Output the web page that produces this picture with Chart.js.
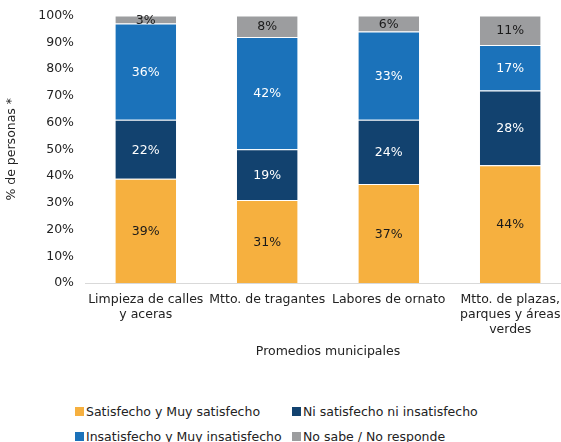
<!DOCTYPE html>
<html>
<head>
<meta charset="utf-8">
<script src="https://cdn.jsdelivr.net/npm/chart.js@4/dist/chart.umd.min.js"></script>
<style>
  html, body { margin: 0; padding: 0; background: #fff; overflow: hidden; }
  #wrap { position: relative; width: 572px; height: 442px; }
  #box { position: absolute; left: 0; top: -3px; width: 572px; height: 366px; }
  #legend {
    position: absolute; left: 75px; top: 402px;
    display: grid; grid-template-columns: 217px 260px; row-gap: 7px;
    font-family: "DejaVu Sans", sans-serif; font-size: 12.5px; color: #222;
  }
  #legend div { display: flex; align-items: center; white-space: nowrap; height: 18px; }
  #legend span.sw { width: 9px; height: 9px; margin-right: 2px; display: inline-block; }
</style>
</head>
<body>
<div id="wrap">
  <div id="box"><canvas id="chart"></canvas></div>
  <div id="legend"></div>
</div>
<script>
var categories = [
    ['Limpieza de calles', 'y aceras'],
    'Mtto. de tragantes',
    'Labores de ornato',
    ['Mtto. de plazas,', 'parques y áreas', 'verdes']
];
var satisfecho = [39, 31, 37, 44];
var neutral = [22, 19, 24, 28];
var insatisfecho = [36, 42, 33, 17];
var noResponde = [3, 8, 6, 11];
var yTicks = [0, 10, 20, 30, 40, 50, 60, 70, 80, 90, 100];

var FONT = '"DejaVu Sans", sans-serif';

// writes the percentage in the middle of each segment
var segmentLabels = {
    id: 'segmentLabels',
    afterDatasetsDraw: function (chart) {
        var ctx = chart.ctx;
        ctx.save();
        ctx.font = '12.5px ' + FONT;
        ctx.textAlign = 'center';
        ctx.textBaseline = 'middle';
        chart.data.datasets.forEach(function (ds, i) {
            var meta = chart.getDatasetMeta(i);
            meta.data.forEach(function (bar, j) {
                ctx.fillStyle = ds.labelColor;
                ctx.fillText(ds.data[j] + '%', bar.x, (bar.y + bar.base) / 2 + 1);
            });
        });
        ctx.restore();
    }
};

var datasets = [
    { label: 'Satisfecho y Muy satisfecho', data: satisfecho, backgroundColor: '#F6B03F', labelColor: '#1a1a1a' },
    { label: 'Ni satisfecho ni insatisfecho', data: neutral, backgroundColor: '#12426F', labelColor: '#ffffff' },
    { label: 'Insatisfecho y Muy insatisfecho', data: insatisfecho, backgroundColor: '#1B72BA', labelColor: '#ffffff' },
    { label: 'No sabe / No responde', data: noResponde, backgroundColor: '#9C9D9F', labelColor: '#1a1a1a' }
];
datasets.forEach(function (d) {
    d.borderColor = 'rgba(255,255,255,0.45)';
    d.borderWidth = { top: 1, bottom: 0, left: 0, right: 0 };
    d.borderSkipped = false;
    d.barPercentage = 0.5;
    d.categoryPercentage = 1.0;
});

Chart.defaults.font.family = FONT;
Chart.defaults.color = '#222';

new Chart(document.getElementById('chart'), {
    type: 'bar',
    data: { labels: categories, datasets: datasets },
    options: {
        responsive: true,
        maintainAspectRatio: false,
        animation: false,
        layout: { padding: { top: 2, right: 1, bottom: 4, left: 0 } },
        plugins: {
            legend: { display: false },
            tooltip: { enabled: false }
        },
        scales: {
            x: {
                stacked: true,
                grid: { display: false, drawTicks: false },
                border: { color: '#d9d9d9', width: 1 },
                ticks: { font: { size: 12.5 }, padding: 9, maxRotation: 0, autoSkip: false },
                title: { display: true, text: 'Promedios municipales', font: { size: 12.5 }, padding: { top: 4, bottom: 0 } },
                afterFit: function (s) { s.height = 76; }
            },
            y: {
                stacked: true,
                min: 0,
                max: 100,
                afterBuildTicks: function (s) { s.ticks = yTicks.map(function (v) { return { value: v }; }); },
                grid: { display: false, drawTicks: false },
                border: { display: false },
                ticks: { font: { size: 12.5 }, padding: 11, callback: function (v) { return v + '%'; } },
                title: { display: true, text: '% de personas *', font: { size: 12.5 }, padding: { bottom: 6 } },
                afterFit: function (s) { s.width = 85; }
            }
        }
    },
    plugins: [segmentLabels]
});

// legend laid out in two columns under the chart
var legend = document.getElementById('legend');
[0, 1, 2, 3].forEach(function (i) {
    var item = document.createElement('div');
    item.innerHTML = '<span class="sw" style="background:' + datasets[i].backgroundColor + '"></span>' + datasets[i].label;
    legend.appendChild(item);
});
</script>
</body>
</html>
